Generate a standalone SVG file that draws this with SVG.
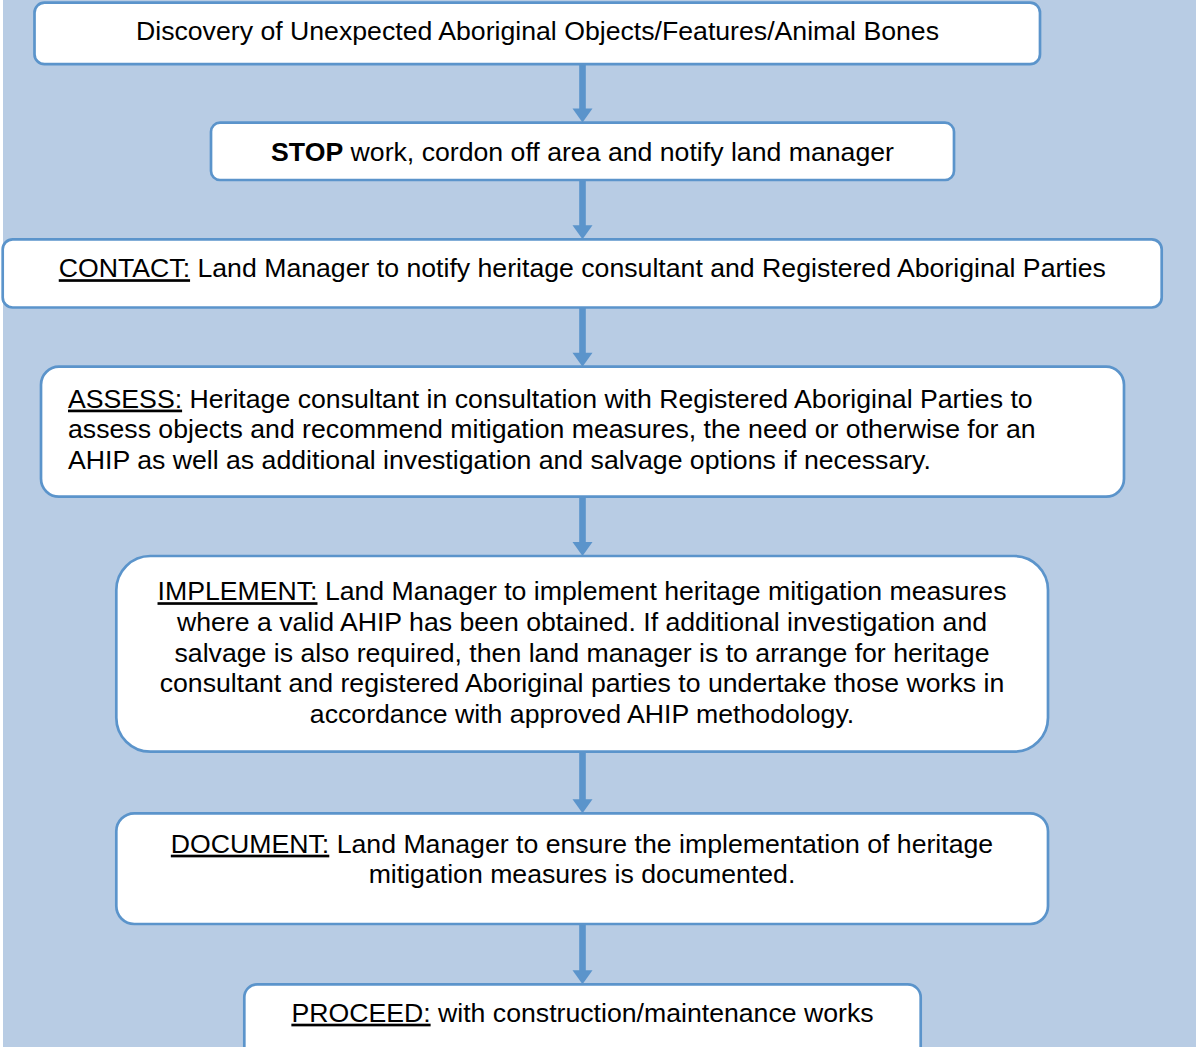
<svg xmlns="http://www.w3.org/2000/svg" width="1196" height="1047" viewBox="0 0 1196 1047">
  <style>
    .box { fill: #ffffff; stroke: #5B94CB; stroke-width: 2.7; }
    .t { font-family: "Liberation Sans", Arial, sans-serif; font-size: 26.67px; fill: #000000; }
    .c { text-anchor: middle; }
    .u { text-decoration: underline; }
    .b { font-weight: bold; }
    .arrow { fill: #5B94CB; }
  </style>
  <defs>
    <!-- block arrow head: 20px wide, 14px tall; tip at origin -->
    <path id="head" d="M-10,-14 L10,-14 L0,0 Z"/>
  </defs>

  <!-- page background -->
  <rect x="0" y="0" width="1196" height="1047" fill="#ffffff"/>
  <rect x="3" y="0" width="1193" height="1047" fill="#B8CCE4"/>

  <!-- connectors -->
  <g id="connectors" class="arrow">
    <rect x="579.2" y="65" width="6.6" height="45"/>
    <use href="#head" x="582.5" y="122.5"/>
    <rect x="579.2" y="180" width="6.6" height="46"/>
    <use href="#head" x="582.5" y="239.3"/>
    <rect x="579.2" y="307.5" width="6.6" height="46"/>
    <use href="#head" x="582.5" y="366.7"/>
    <rect x="579.2" y="497" width="6.6" height="46"/>
    <use href="#head" x="582.5" y="556"/>
    <rect x="579.2" y="752" width="6.6" height="48"/>
    <use href="#head" x="582.5" y="813.3"/>
    <rect x="579.2" y="924" width="6.6" height="47"/>
    <use href="#head" x="582.5" y="984.3"/>
  </g>

  <g id="discovery">
    <rect class="box" x="34.5" y="2.7" width="1005.5" height="61.5" rx="10"/>
    <text class="t c" x="537.5" y="39.7">Discovery of Unexpected Aboriginal Objects/Features/Animal Bones</text>
  </g>

  <g id="stop">
    <rect class="box" x="211" y="122.7" width="743" height="57.3" rx="9"/>
    <text class="t c" x="582.5" y="160.7"><tspan class="b">STOP</tspan> work, cordon off area and notify land manager</text>
  </g>

  <g id="contact">
    <rect class="box" x="2.7" y="239.3" width="1159" height="68.2" rx="10"/>
    <text class="t c" x="582.3" y="277.2"><tspan class="u">CONTACT:</tspan> Land Manager to notify heritage consultant and Registered Aboriginal Parties</text>
  </g>

  <g id="assess">
    <rect class="box" x="41" y="366.7" width="1083" height="130" rx="18"/>
    <text class="t" x="68" y="407.6"><tspan class="u">ASSESS:</tspan> Heritage consultant in consultation with Registered Aboriginal Parties to</text>
    <text class="t" x="68" y="438.3">assess objects and recommend mitigation measures, the need or otherwise for an</text>
    <text class="t" x="68" y="468.9">AHIP as well as additional investigation and salvage options if necessary.</text>
  </g>

  <g id="implement">
    <rect class="box" x="116.3" y="556" width="931.7" height="195.7" rx="34"/>
    <text class="t c" x="582" y="600.2"><tspan class="u">IMPLEMENT:</tspan> Land Manager to implement heritage mitigation measures</text>
    <text class="t c" x="582" y="630.9">where a valid AHIP has been obtained. If additional investigation and</text>
    <text class="t c" x="582" y="661.5">salvage is also required, then land manager is to arrange for heritage</text>
    <text class="t c" x="582" y="692.2">consultant and registered Aboriginal parties to undertake those works in</text>
    <text class="t c" x="582" y="722.9">accordance with approved AHIP methodology.</text>
  </g>

  <g id="document">
    <rect class="box" x="116.3" y="813.3" width="931.7" height="110.7" rx="18"/>
    <text class="t c" x="582" y="852.7"><tspan class="u">DOCUMENT:</tspan> Land Manager to ensure the implementation of heritage</text>
    <text class="t c" x="582" y="883.4">mitigation measures is documented.</text>
  </g>

  <g id="proceed">
    <rect class="box" x="244.3" y="984.3" width="676.4" height="90" rx="13"/>
    <text class="t c" x="582.5" y="1021.7"><tspan class="u">PROCEED:</tspan> with construction/maintenance works</text>
  </g>
</svg>
